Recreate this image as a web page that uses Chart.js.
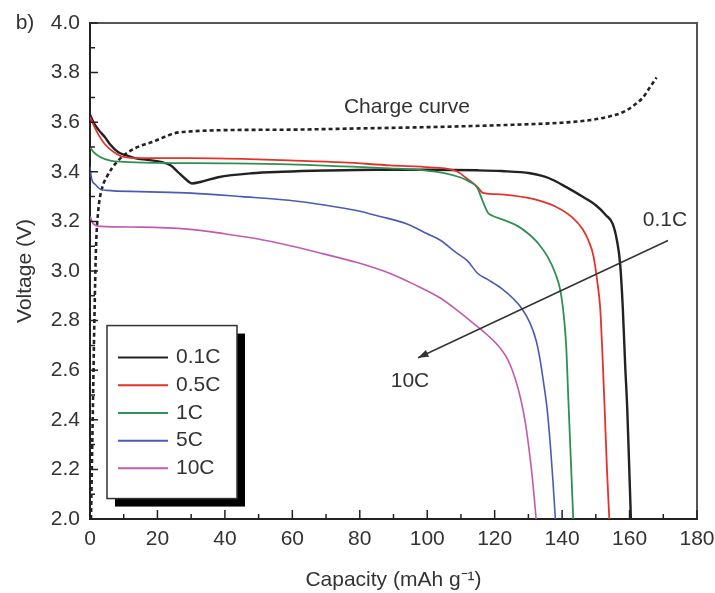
<!DOCTYPE html>
<html>
<head>
<meta charset="utf-8">
<script src="https://cdn.jsdelivr.net/npm/chart.js@4.4.0/dist/chart.umd.min.js"></script>
<style>
  html, body { margin: 0; padding: 0; background: #fff; }
  #wrap { width: 715px; height: 593px; }
</style>
</head>
<body>
<div id="wrap"><canvas id="chart" width="715" height="593"></canvas></div>
<script>
  // discharge curves at different C-rates (capacity in mAh/g, voltage in V)
  var cap01 = [0, 1, 2.5, 4.4, 6, 8.3, 11, 13.3, 17, 21, 24, 26, 28, 30.2, 33, 38, 48, 57, 70, 85, 100, 115, 122, 130.5, 136, 141.4, 146, 150, 153, 155, 156.3, 157.2, 158, 158.7, 159.3, 159.8, 160.4];
  var v01 = [3.63, 3.60, 3.57, 3.54, 3.51, 3.48, 3.465, 3.455, 3.448, 3.44, 3.425, 3.40, 3.375, 3.353, 3.36, 3.378, 3.394, 3.40, 3.405, 3.408, 3.408, 3.406, 3.403, 3.394, 3.375, 3.337, 3.30, 3.265, 3.225, 3.19, 3.12, 3.03, 2.85, 2.62, 2.45, 2.25, 2.0];

  var cap05 = [0, 1, 2.5, 4.5, 7, 10, 15, 30, 45, 59, 75, 89, 101, 106, 109, 112, 114.8, 116.5, 120, 125, 133, 138, 143, 146, 147.8, 149.3, 150.5, 151.3, 152, 152.6, 153.3, 154];
  var v05 = [3.62, 3.59, 3.55, 3.51, 3.48, 3.46, 3.455, 3.455, 3.452, 3.446, 3.438, 3.426, 3.418, 3.412, 3.40, 3.37, 3.34, 3.315, 3.31, 3.305, 3.285, 3.26, 3.216, 3.17, 3.123, 3.06, 2.95, 2.85, 2.65, 2.45, 2.2, 2.0];

  var cap1 = [0, 1, 3, 6, 10, 20, 40, 59, 75, 89, 99, 105, 109.7, 112.5, 114.8, 116.5, 118, 119.5, 123, 127, 130, 133, 135.8, 138, 139.5, 140.5, 141.2, 141.8, 142.4, 143.3];
  var v1 = [3.50, 3.48, 3.46, 3.445, 3.44, 3.436, 3.434, 3.43, 3.422, 3.414, 3.406, 3.395, 3.378, 3.36, 3.337, 3.28, 3.235, 3.222, 3.204, 3.18, 3.15, 3.11, 3.055, 2.99, 2.92, 2.82, 2.7, 2.5, 2.3, 2.0];

  var cap5 = [0, 0.5, 1.5, 3, 5, 15, 30, 45, 59, 70, 79, 86, 94, 100, 104, 108, 112, 115, 118, 122, 125.4, 128, 130.5, 132.3, 133.5, 134.5, 135.5, 136.5, 137.3, 138];
  var v5 = [3.42, 3.37, 3.35, 3.33, 3.325, 3.32, 3.314, 3.30, 3.285, 3.265, 3.244, 3.22, 3.19, 3.15, 3.123, 3.08, 3.04, 2.99, 2.965, 2.93, 2.89, 2.85, 2.79, 2.72, 2.64, 2.55, 2.45, 2.3, 2.15, 2.0];

  var cap10 = [0, 1, 3, 15, 29.7, 40, 49.5, 60, 69, 79, 89, 97, 104, 109, 113.6, 118, 121.6, 124, 126, 127.8, 129.2, 130.3, 131.3, 132.3];
  var v10 = [3.22, 3.19, 3.18, 3.177, 3.168, 3.15, 3.13, 3.10, 3.07, 3.035, 2.99, 2.94, 2.89, 2.84, 2.79, 2.74, 2.69, 2.64, 2.57, 2.48, 2.38, 2.27, 2.15, 2.0];

  // charge curve (dotted)
  var capCharge = [0.3, 0.8, 1.3, 1.8, 2.5, 3.5, 5, 8, 11.3, 15, 18.4, 22, 25.2, 30, 40, 60, 80, 100, 121.6, 140, 148, 153, 158, 161, 164, 166, 168];
  var vCharge = [2.0, 2.4, 2.8, 3.1, 3.25, 3.33, 3.38, 3.44, 3.479, 3.505, 3.52, 3.54, 3.556, 3.563, 3.568, 3.57, 3.575, 3.58, 3.588, 3.598, 3.608, 3.62, 3.64, 3.665, 3.70, 3.74, 3.78];

  var rateLabels = ["0.1C", "0.5C", "1C", "5C", "10C"];
  var rateColors = ["#222222", "#e4322b", "#2f8f55", "#4a5bb5", "#c25bb0"];

  // arrow from 0.1C towards 10C: [capacity, voltage] of tail and head
  var arrowFrom = [171.4, 3.123];
  var arrowTo = [97.3, 2.65];

  var FONT = "Liberation Sans, Arial, sans-serif";

  function pts(xs, ys) {
    return xs.map(function (x, i) { return { x: x, y: ys[i] }; });
  }

  function curve(label, xs, ys, color, width) {
    return {
      label: label,
      data: pts(xs, ys),
      borderColor: color,
      backgroundColor: color,
      borderWidth: width,
      showLine: true,
      pointRadius: 0,
      cubicInterpolationMode: "monotone",
      fill: false
    };
  }

  var datasets = [
    curve(rateLabels[4], cap10, v10, rateColors[4], 1.6),
    curve(rateLabels[3], cap5, v5, rateColors[3], 1.6),
    curve(rateLabels[2], cap1, v1, rateColors[2], 1.8),
    curve(rateLabels[1], cap05, v05, rateColors[1], 1.8),
    curve(rateLabels[0], cap01, v01, rateColors[0], 2.4)
  ];
  var charge = curve("Charge", capCharge, vCharge, "#222222", 2.6);
  charge.borderDash = [4, 3];
  datasets.push(charge);

  // inward ticks, frame, legend box and text annotations
  var decorations = {
    id: "decorations",
    afterDraw: function (chart) {
      var ctx = chart.ctx;
      var a = chart.chartArea;
      var xs = chart.scales.x, ys = chart.scales.y;
      ctx.save();

      // top and right frame
      ctx.strokeStyle = "#555";
      ctx.lineWidth = 2;
      ctx.beginPath();
      ctx.moveTo(a.left, a.top);
      ctx.lineTo(a.right, a.top);
      ctx.lineTo(a.right, a.bottom);
      ctx.stroke();

      // ticks pointing into the plot
      ctx.strokeStyle = "#222";
      ctx.lineWidth = 1.5;
      ctx.beginPath();
      xs.ticks.forEach(function (t, i) {
        var px = xs.getPixelForValue(t.value);
        ctx.moveTo(px, a.bottom);
        ctx.lineTo(px, a.bottom - 9);
        if (i < xs.ticks.length - 1) {
          var mx = xs.getPixelForValue((t.value + xs.ticks[i + 1].value) / 2);
          ctx.moveTo(mx, a.bottom);
          ctx.lineTo(mx, a.bottom - 5);
        }
      });
      ys.ticks.forEach(function (t, i) {
        var py = ys.getPixelForValue(t.value);
        ctx.moveTo(a.left, py);
        ctx.lineTo(a.left + 8, py);
        if (i < ys.ticks.length - 1) {
          var my = ys.getPixelForValue((t.value + ys.ticks[i + 1].value) / 2);
          ctx.moveTo(a.left, my);
          ctx.lineTo(a.left + 5, my);
        }
      });
      ctx.stroke();

      // legend box with drop shadow
      var bx = a.left + 17, by = ys.getPixelForValue(2.78), bw = 130, bh = 173;
      ctx.fillStyle = "#000";
      ctx.fillRect(bx + 8, by + 8, bw, bh);
      ctx.fillStyle = "#fff";
      ctx.fillRect(bx, by, bw, bh);
      ctx.strokeStyle = "#333";
      ctx.lineWidth = 1.5;
      ctx.strokeRect(bx, by, bw, bh);
      ctx.font = "21px " + FONT;
      ctx.textBaseline = "middle";
      ctx.textAlign = "left";
      rateLabels.forEach(function (lab, i) {
        var ry = by + 32 + i * 27.7;
        ctx.strokeStyle = rateColors[i];
        ctx.lineWidth = 2;
        ctx.beginPath();
        ctx.moveTo(bx + 11, ry);
        ctx.lineTo(bx + 61, ry);
        ctx.stroke();
        ctx.fillStyle = "#333";
        ctx.fillText(lab, bx + 69, ry);
      });

      // arrow
      var x0 = xs.getPixelForValue(arrowFrom[0]), y0 = ys.getPixelForValue(arrowFrom[1]);
      var x1 = xs.getPixelForValue(arrowTo[0]), y1 = ys.getPixelForValue(arrowTo[1]);
      var ang = Math.atan2(y1 - y0, x1 - x0);
      ctx.strokeStyle = "#333";
      ctx.fillStyle = "#333";
      ctx.lineWidth = 1.5;
      ctx.beginPath();
      ctx.moveTo(x0, y0);
      ctx.lineTo(x1, y1);
      ctx.stroke();
      ctx.beginPath();
      ctx.moveTo(x1, y1);
      ctx.lineTo(x1 - 11 * Math.cos(ang - 0.35), y1 - 11 * Math.sin(ang - 0.35));
      ctx.lineTo(x1 - 11 * Math.cos(ang + 0.35), y1 - 11 * Math.sin(ang + 0.35));
      ctx.closePath();
      ctx.fill();

      // labels
      ctx.fillStyle = "#333";
      ctx.textAlign = "center";
      ctx.fillText("Charge curve", xs.getPixelForValue(94), ys.getPixelForValue(3.66));
      ctx.fillText("0.1C", xs.getPixelForValue(170.5), ys.getPixelForValue(3.204));
      ctx.fillText("10C", xs.getPixelForValue(94.9), ys.getPixelForValue(2.557));
      ctx.fillText("b)", 25, a.top);
      ctx.restore();
    }
  };

  new Chart(document.getElementById("chart"), {
    type: "scatter",
    data: { datasets: datasets },
    plugins: [decorations],
    options: {
      responsive: false,
      animation: false,
      events: [],
      layout: { padding: { left: 0, right: 18, top: 23, bottom: 0 } },
      plugins: { legend: { display: false }, tooltip: { enabled: false } },
      scales: {
        x: {
          type: "linear",
          min: 0,
          max: 180,
          afterFit: function (s) {
            s.height = 74;
            s.paddingLeft = 0;
            s.paddingRight = 0;
          },
          grid: { display: false, drawTicks: false },
          border: { color: "#222", width: 2 },
          ticks: { stepSize: 20, padding: 8, color: "#333", font: { family: FONT, size: 21 } },
          title: {
            display: true,
            text: "Capacity (mAh g\u207B\u00B9)",
            color: "#333",
            padding: { top: 0, bottom: 0 },
            font: { family: FONT, size: 21 }
          }
        },
        y: {
          type: "linear",
          min: 2.0,
          max: 4.0,
          afterFit: function (s) {
            s.width = 90;
            s.paddingTop = 0;
            s.paddingBottom = 0;
          },
          grid: { display: false, drawTicks: false },
          border: { color: "#222", width: 2 },
          ticks: {
            stepSize: 0.2,
            padding: 10,
            color: "#333",
            font: { family: FONT, size: 21 },
            callback: function (v) { return v.toFixed(1); }
          },
          title: {
            display: true,
            text: "Voltage (V)",
            color: "#333",
            padding: { top: 13, bottom: 0 },
            font: { family: FONT, size: 21 }
          }
        }
      }
    }
  });
</script>
</body>
</html>
